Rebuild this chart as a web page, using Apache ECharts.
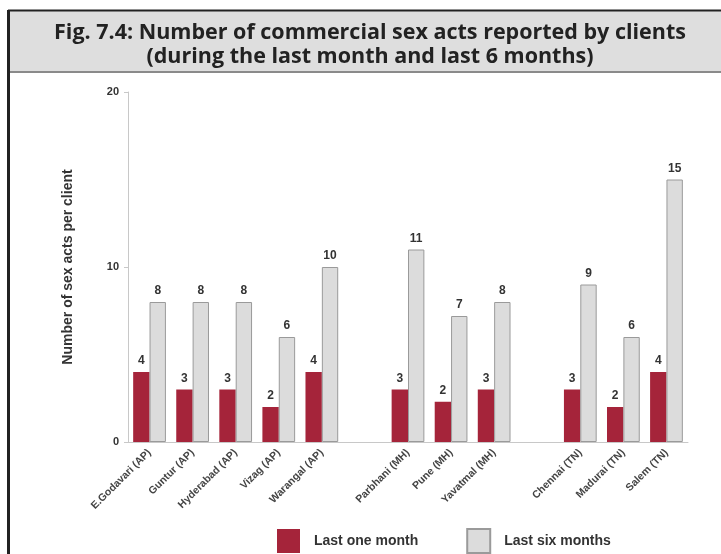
<!DOCTYPE html>
<html>
<head>
<meta charset="utf-8">
<script src="https://cdn.jsdelivr.net/npm/echarts@6/dist/echarts.min.js"></script>
<style>
  html, body { margin: 0; padding: 0; background: #ffffff; }
  #chart { width: 721px; height: 554px; }
</style>
</head>
<body>
<div id="chart"></div>
<script>
// Sites grouped by state: AP, MH, TN
const sitesAP = ['E.Godavari (AP)', 'Guntur (AP)', 'Hyderabad (AP)', 'Vizag (AP)', 'Warangal (AP)'];
const sitesMH = ['Parbhani (MH)', 'Pune (MH)', 'Yavatmal (MH)'];
const sitesTN = ['Chennai (TN)', 'Madurai (TN)', 'Salem (TN)'];

// Mean number of commercial sex acts per client
const lastOneMonthAP = [4, 3, 3, 2, 4];
const lastOneMonthMH = [3, 2.3, 3];
const lastOneMonthTN = [3, 2, 4];

const lastSixMonthsAP = [8, 8, 8, 6, 10];
const lastSixMonthsMH = [11, 7.2, 8];
const lastSixMonthsTN = [9, 6, 15];

const yTicks = [0, 10, 20];
const seriesNames = ['Last one month', 'Last six months'];

// Join the state groups with an empty slot between them
function joinGroups(groups, filler) {
  const out = [];
  groups.forEach((g, i) => {
    if (i > 0) out.push(filler);
    g.forEach(v => out.push(v));
  });
  return out;
}

const categories = joinGroups([sitesAP, sitesMH, sitesTN], '');
const oneMonth = joinGroups([lastOneMonthAP, lastOneMonthMH, lastOneMonthTN], '-');
const sixMonths = joinGroups([lastSixMonthsAP, lastSixMonthsMH, lastSixMonthsTN], '-');

const chart = echarts.init(document.getElementById('chart'), null, { renderer: 'canvas' });

const valueLabel = {
  show: true,
  position: 'top',
  distance: 5,
  fontFamily: 'Liberation Sans',
  fontWeight: 'bold',
  fontSize: 12,
  color: '#333333',
  formatter: p => String(Math.round(p.value))
};

const titleStyle = {
  fontFamily: 'Open Sans',
  fontWeight: 'bold',
  fontSize: 21.5,
  fill: '#222222',
  align: 'center',
  verticalAlign: 'middle'
};

chart.setOption({
  backgroundColor: '#ffffff',
  animation: false,
  graphic: [
    // title band
    { type: 'rect', shape: { x: 9, y: 10, width: 712, height: 62 },
      style: { fill: '#dedede' }, silent: true },
    { type: 'line', shape: { x1: 8, y1: 10.5, x2: 721, y2: 10.5 },
      style: { stroke: '#222222', lineWidth: 2 }, silent: true },
    { type: 'line', shape: { x1: 9, y1: 72, x2: 721, y2: 72 },
      style: { stroke: '#8a8a8a', lineWidth: 2 }, silent: true },
    { type: 'line', shape: { x1: 8.5, y1: 10, x2: 8.5, y2: 554 },
      style: { stroke: '#222222', lineWidth: 3 }, silent: true },
    { type: 'text', x: 370, y: 33,
      style: Object.assign({ text: 'Fig. 7.4: Number of commercial sex acts reported by clients' }, titleStyle) },
    { type: 'text', x: 370, y: 57,
      style: Object.assign({ text: '(during the last month and last 6 months)' }, titleStyle) }
  ],
  legend: {
    left: 272,
    top: 523,
    itemWidth: 23,
    itemHeight: 24,
    itemGap: 48,
    icon: 'rect',
    selectedMode: false,
    data: seriesNames,
    textStyle: {
      fontFamily: 'Liberation Sans',
      fontWeight: 'bold',
      fontSize: 14,
      color: '#333333',
      padding: [0, 0, 0, 9]
    }
  },
  grid: { left: 128, right: 33, top: 92, bottom: 112, containLabel: false },
  xAxis: {
    type: 'category',
    data: categories,
    boundaryGap: true,
    axisLine: { lineStyle: { color: '#c8c8c8', width: 1 } },
    axisTick: { show: false },
    axisLabel: {
      interval: 0,
      rotate: 45,
      margin: 9,
      fontFamily: 'Liberation Sans',
      fontWeight: 'bold',
      fontSize: 10.5,
      color: '#444444'
    }
  },
  yAxis: {
    type: 'value',
    min: yTicks[0],
    max: yTicks[yTicks.length - 1],
    interval: yTicks[1] - yTicks[0],
    name: 'Number of sex acts per client',
    nameLocation: 'middle',
    nameGap: 53,
    nameTextStyle: {
      fontFamily: 'Liberation Sans',
      fontWeight: 'bold',
      fontSize: 14,
      color: '#333333'
    },
    axisLine: { show: true, lineStyle: { color: '#c8c8c8', width: 1 } },
    axisTick: { show: true, length: 4, lineStyle: { color: '#c8c8c8' } },
    splitLine: { show: false },
    axisLabel: {
      margin: 9,
      fontFamily: 'Liberation Sans',
      fontWeight: 'bold',
      fontSize: 11,
      color: '#333333'
    }
  },
  series: [
    {
      name: seriesNames[0],
      type: 'bar',
      data: oneMonth,
      barGap: '0%',
      barCategoryGap: '24%',
      itemStyle: { color: '#a5243a' },
      label: valueLabel
    },
    {
      name: seriesNames[1],
      type: 'bar',
      data: sixMonths,
      barGap: '0%',
      barCategoryGap: '24%',
      itemStyle: { color: '#dcdcdc', borderColor: '#9a9a9a', borderWidth: 1 },
      label: valueLabel
    }
  ]
});
</script>
</body>
</html>
